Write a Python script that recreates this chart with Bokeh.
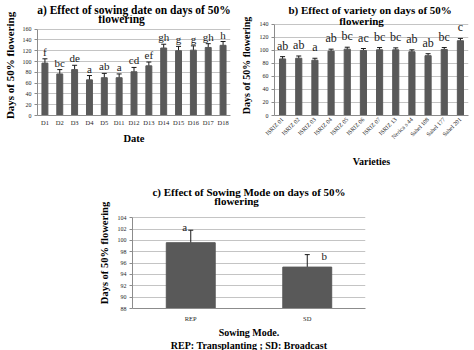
import math
from bokeh.plotting import figure
from bokeh.models import (ColumnDataSource, FactorRange, Range1d, Whisker, TeeHead,
                          LabelSet, Label, FixedTicker, Title)
from bokeh.layouts import column, row, Spacer
from bokeh.embed import file_html
from bokeh.resources import INLINE

# ---- data ----
dates = ["D1", "D2", "D3", "D4", "D5", "D11", "D12", "D13", "D14", "D15", "D16", "D17", "D18"]
date_days = [97, 77, 85, 66, 70, 70, 81, 92, 125, 120, 121, 126, 130]
date_err = [8, 8, 8, 8, 8, 7, 8, 7, 7, 8, 8, 7, 7]
date_letters = ["f", "bc", "de", "a", "ab", "a", "cd", "ef", "gh", "g", "g", "gh", "h"]

varieties = ["ISRIZ 01", "ISRIZ 02", "ISRIZ 03", "ISRIZ 04", "ISRIZ 05", "ISRIZ 06",
             "ISRIZ 07", "ISRIZ 13", "Nerica s 44", "Sahel 108", "Sahel 177", "Sahel 201"]
variety_days = [87, 88, 85, 99, 102, 100, 101, 101, 98, 92, 101.5, 115]
variety_err = [3.5, 3.5, 3, 3, 3, 3, 3.5, 3, 3, 3, 3, 3.5]
variety_letters = ["ab", "ab", "a", "ab", "bc", "ac", "bc", "bc", "ab", "ab", "bc", "c"]

modes = ["REP", "SD"]
mode_days = [99.6, 95.3]
mode_err = [2.2, 2.2]
mode_letters = ["a", "b"]

date_ticks = [0, 20, 40, 60, 80, 100, 120, 140, 160]
variety_ticks = [0, 20, 40, 60, 80, 100, 120, 140]
mode_ticks = [88, 90, 92, 94, 96, 98, 100, 102, 104]

SERIF = "Liberation Serif"
SANS = "Liberation Sans"
BAR = "#595959"
GRID = "#c4c4c4"
AXIS = "#8c8c8c"


def make_panel(cats, vals, errs, letters, ticks, y_top, width, height, borders, bar_w,
               letter_size, letter_offset, ylabel_size, ylabel_standoff, xlab_size="6.5px"):
    l, r, t, b = borders
    p = figure(width=width, height=height,
               x_range=FactorRange(*cats, range_padding=0),
               y_range=Range1d(ticks[0], y_top),
               output_backend="svg", toolbar_location=None,
               min_border_left=l, min_border_right=r, min_border_top=t, min_border_bottom=b)
    p.outline_line_color = None
    p.background_fill_color = "white"
    p.border_fill_color = "white"
    p.xgrid.grid_line_color = None
    p.ygrid.grid_line_color = GRID
    p.ygrid.grid_line_width = 1
    p.yaxis.ticker = FixedTicker(ticks=ticks)
    p.yaxis.bounds = (ticks[0], ticks[-1])

    lo = [v - e for v, e in zip(vals, errs)]
    hi = [v + e for v, e in zip(vals, errs)]
    src = ColumnDataSource(dict(cat=cats, val=vals, lo=lo, hi=hi, letter=letters))
    p.vbar(x="cat", top="val", bottom=ticks[0], width=bar_w, source=src,
           fill_color=BAR, line_color=BAR)
    w = Whisker(base="cat", lower="lo", upper="hi", source=src, line_color="#1a1a1a",
                line_width=1,
                upper_head=TeeHead(size=5, line_color="#1a1a1a", line_width=1),
                lower_head=TeeHead(size=5, line_color="#1a1a1a", line_width=1))
    p.add_layout(w)
    if letter_size:
        ls = LabelSet(x="cat", y="hi", text="letter", source=src, text_align="center",
                      text_baseline="bottom", y_offset=letter_offset,
                      text_font=SERIF, text_font_size=letter_size, text_color="#1a1a1a")
        p.add_layout(ls)

    for ax in (p.xaxis[0], p.yaxis[0]):
        ax.axis_line_color = AXIS
        ax.major_tick_line_color = AXIS
        ax.major_tick_out = 3
        ax.major_tick_in = 0
        ax.minor_tick_line_color = None
        ax.major_label_text_font = SERIF
        ax.major_label_text_color = "#262626"
    p.yaxis.major_label_text_font_size = "6px"
    p.yaxis.major_label_standoff = 3
    p.xaxis.major_label_text_font_size = xlab_size
    p.xaxis.major_label_standoff = 3
    p.xaxis.major_tick_line_color = None
    p.xaxis.major_tick_out = 0
    p.yaxis.axis_label = "Days of 50% flowering"
    p.yaxis.axis_label_text_font = SERIF
    p.yaxis.axis_label_text_font_style = "bold"
    p.yaxis.axis_label_text_font_size = ylabel_size
    p.yaxis.axis_label_text_color = "black"
    p.yaxis.axis_label_standoff = ylabel_standoff
    return p


def style_title(t, text, off, standoff, size):
    t.text = text
    t.align = "center"
    t.offset = off
    t.standoff = standoff
    t.text_font = SERIF
    t.text_font_style = "bold"
    t.text_font_size = size
    t.text_color = "black"


def add_titles(p, line1, off1, line2, x2, y2, size):
    # first title line above the frame, second line inside the (extended) frame
    style_title(p.title, line1, off1, 0, size)
    p.add_layout(Label(x=x2, y=y2, x_units="screen", y_units="data", text=line2,
                       text_align="center", text_baseline="middle", text_font=SERIF,
                       text_font_style="bold", text_font_size=size, text_color="black"))


def add_below(p, text, off, standoff, size="10px"):
    t = Title()
    style_title(t, text, off, standoff, size)
    p.add_layout(t, "below")


# ---- panel a ----
pa = make_panel(dates, date_days, date_err, date_letters, date_ticks, 185.2,
                237, 175, (32, 7, 15, 35), 0.4, "11px", 1, "11px", 4)
add_titles(pa, "a) Effect of sowing date on days of 50%", -9, "flowering", 84, 179.3, "11.5px")
add_below(pa, "Date", -17, 5, size="10.5px")

# ---- panel b ----
pb = make_panel(varieties, variety_days, variety_err, variety_letters, variety_ticks, 153.75,
                237, 175, (31, 6, 14, 57), 0.38, "12px", 4, "10px", 5, xlab_size="6px")
pb.xaxis.major_label_orientation = math.pi / 4
add_titles(pb, "b) Effect of variety  on days of 50%", -10, "flowering", 87, 144.9, "11px")
add_below(pb, "Varieties", 0, 17, size="10px")

# ---- panel c ----
pc = make_panel(modes, mode_days, mode_err, mode_letters, mode_ticks, 107.57,
                285, 175, (32, 15, 22, 38), 0.42, None, 0, "10.5px", 5)
pc.xaxis.major_label_standoff = 6
add_titles(pc, "c) Effect of Sowing Mode on days of 50%", -15, "flowering", 104, 106.9, "11px")
add_below(pc, "Sowing Mode.", 0, 0)
add_below(pc, "REP: Transplanting ; SD: Broadcast", 0, 0)
mode_src = ColumnDataSource(dict(cat=modes, hi=[v + e for v, e in zip(mode_days, mode_err)],
                                 letter=mode_letters, dx=[-6, 17], dy=[3, -1]))
pc.add_layout(LabelSet(x="cat", y="hi", text="letter", source=mode_src,
                       x_offset="dx", y_offset="dy", text_align="center",
                       text_baseline="middle", text_font=SANS, text_font_size="11px",
                       text_color="#1a1a1a"))

layout = column(row(pa, pb), row(Spacer(width=95, height=175), pc))

open("out.html", "w").write(file_html(layout, INLINE))
